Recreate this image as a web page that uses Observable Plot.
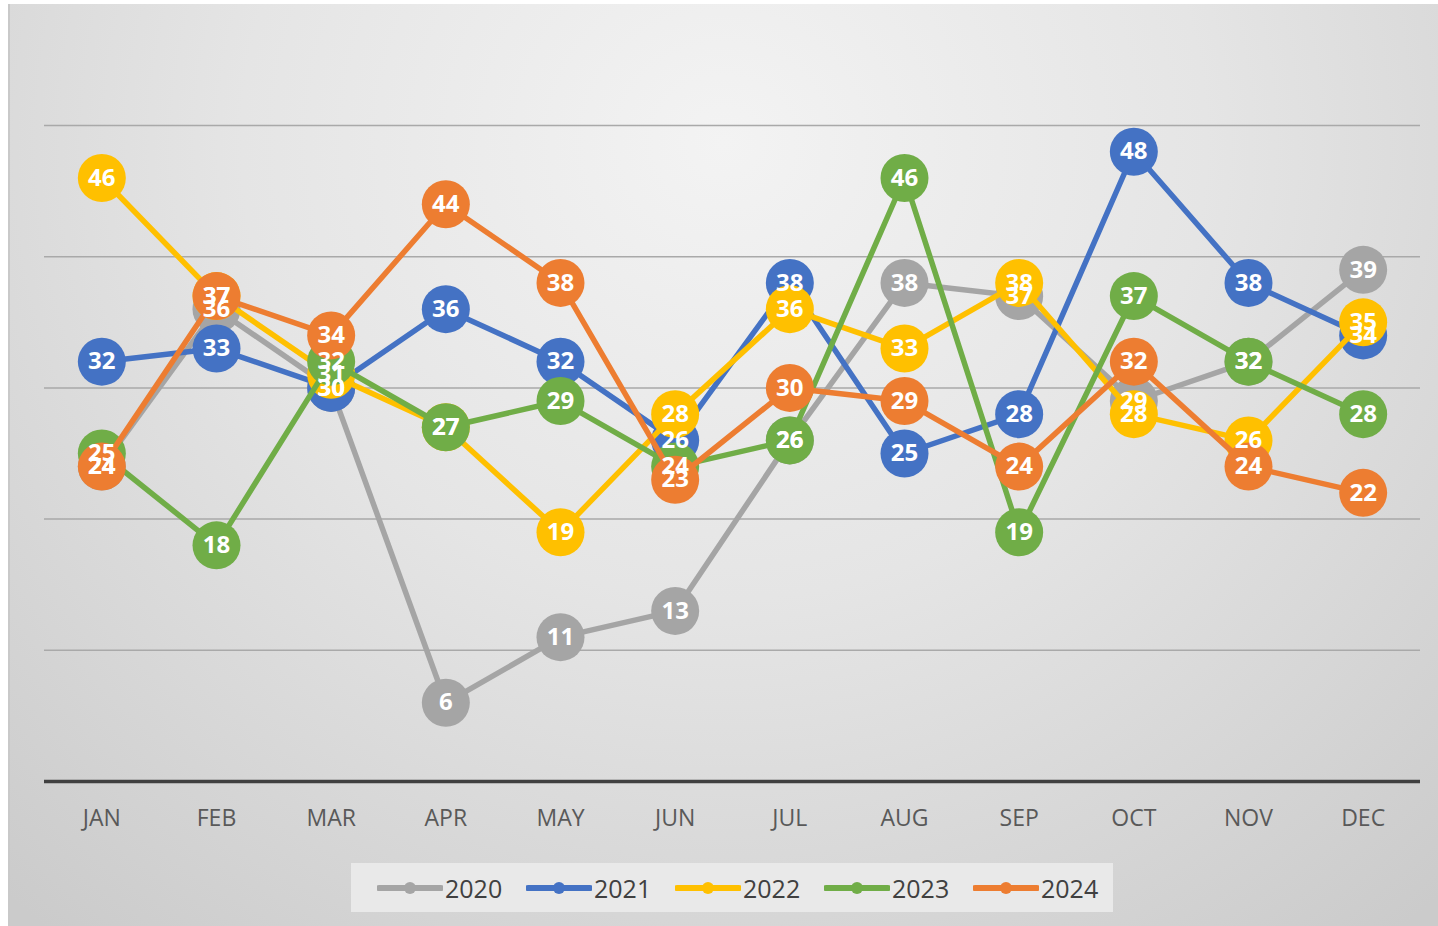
<!DOCTYPE html>
<html>
<head>
<meta charset="utf-8">
<script src="https://cdn.jsdelivr.net/npm/d3@7"></script>
<script src="https://cdn.jsdelivr.net/npm/@observablehq/plot@0.6"></script>
<style>
  html, body { margin: 0; padding: 0; background: #ffffff; }
  #frame {
    position: absolute; left: 8px; top: 4px; width: 1430px; height: 922px;
    background: radial-gradient(ellipse 75% 110% at 50% 15%, #f3f3f3 0%, #e5e5e5 45%, #cbcbcb 100%);
    border-left: 2px solid #c9c9c9;
    box-sizing: border-box;
    overflow: hidden;
  }
  #chart { position: absolute; left: -2px; top: 0; }
  #legend {
    position: absolute; left: 341px; top: 859px; width: 762px; height: 49px;
    background: #e9e9e9;
    font-family: "Open Sans", sans-serif; font-size: 25px; color: #404040;
  }
  .item { display: flex; align-items: center; position: absolute; top: 0; height: 49px; }
  .item svg { display: block; margin-right: 2px; }
</style>
</head>
<body>
<div id="frame">
  <div id="chart"></div>
  <div id="legend"></div>
</div>
<script>
const months = ["JAN","FEB","MAR","APR","MAY","JUN","JUL","AUG","SEP","OCT","NOV","DEC"];
const years = ["2020","2021","2022","2023","2024"];
const v2020 = [24, 36, 30, 6, 11, 13, 26, 38, 37, 29, 32, 39];
const v2021 = [32, 33, 30, 36, 32, 26, 38, 25, 28, 48, 38, 34];
const v2022 = [46, 37, 31, 27, 19, 28, 36, 33, 38, 28, 26, 35];
const v2023 = [25, 18, 32, 27, 29, 24, 26, 46, 19, 37, 32, 28];
const v2024 = [24, 37, 34, 44, 38, 23, 30, 29, 24, 32, 24, 22];
const gridValues = [10, 20, 30, 40, 50];
const colors = ["#A5A5A5", "#4472C4", "#FFC000", "#70AD47", "#ED7D31"];

const seriesValues = [v2020, v2021, v2022, v2023, v2024];
const rows = years.flatMap((yr, i) => months.map((m, j) => ({year: yr, month: m, value: seriesValues[i][j]})));

const seriesMarks = years.flatMap((yr, i) => {
  const d = rows.filter(r => r.year === yr);
  return [
    Plot.line(d, {x: "month", y: "value", stroke: colors[i], strokeWidth: 5.5, strokeLinejoin: "round"}),
    Plot.dot(d, {x: "month", y: "value", r: 24, fill: colors[i], stroke: "none"})
  ];
});

const chart = Plot.plot({
  width: 1430,
  height: 850,
  marginLeft: 36,
  marginRight: 18,
  marginTop: 121,
  marginBottom: 73,
  style: {background: "transparent", fontFamily: "Open Sans, sans-serif", fontSize: "23px", color: "#595959", overflow: "visible"},
  x: {type: "point", domain: months, padding: 0.5, round: false, tickSize: 0, tickPadding: 28, label: null},
  y: {domain: [0, 50], axis: null},
  marks: [
    Plot.ruleY(gridValues, {stroke: "#a9a9a9", strokeWidth: 1.5}),
    Plot.ruleY([0], {stroke: "#404040", strokeWidth: 3.5}),
    ...seriesMarks,
    Plot.text(rows, {x: "month", y: "value", text: d => String(d.value), fill: "white", fontWeight: "bold", fontSize: 24, fontFamily: "Open Sans, sans-serif"})
  ]
});
document.getElementById("chart").appendChild(chart);

const legend = document.getElementById("legend");
years.forEach((yr, i) => {
  const item = document.createElement("div");
  item.className = "item";
  item.style.left = (26 + i * 149) + "px";
  item.innerHTML = `<svg width="66" height="20"><line x1="2" y1="10" x2="64" y2="10" stroke="${colors[i]}" stroke-width="6" stroke-linecap="round"/><circle cx="33" cy="10" r="6" fill="${colors[i]}"/></svg><span>${yr}</span>`;
  legend.appendChild(item);
});
</script>
</body>
</html>
